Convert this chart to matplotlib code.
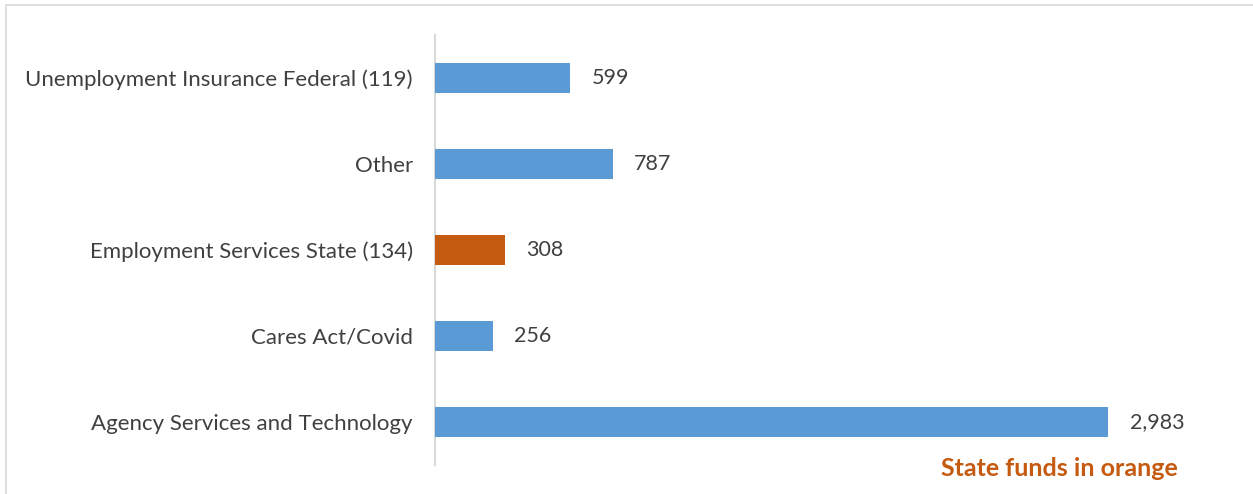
import matplotlib
matplotlib.use("Agg")
import matplotlib.pyplot as plt
from matplotlib.patches import Rectangle

# ── Data ──────────────────────────────────────────────────────────────────────
categories = [
    "Agency Services and Technology",
    "Cares Act/Covid",
    "Employment Services State (134)",
    "Other",
    "Unemployment Insurance Federal (119)",
]
amounts = [2983, 256, 308, 787, 599]
state_funded = [False, False, True, False, False]

BLUE = "#5B9BD5"
ORANGE = "#C55A11"
TEXT = "#404040"
FONT = ["Lato", "DejaVu Sans"]

plt.rcParams["font.family"] = FONT

fig = plt.figure(figsize=(12.53, 4.94), dpi=100)
fig.patch.set_facecolor("white")

# light frame around the chart area
fig.patches.append(Rectangle(
    (6 / 1253, -0.05), 1.2, 1 - 5 / 494 + 0.05,
    transform=fig.transFigure, fill=False,
    edgecolor="#D9D9D9", linewidth=1.2, zorder=0,
))

ax = fig.add_axes([435 / 1253, 29 / 494, 790 / 1253, 430 / 494])

colours = [ORANGE if s else BLUE for s in state_funded]
y = range(len(categories))
bars = ax.barh(y, amounts, height=0.35, color=colours, zorder=3)

for bar, val in zip(bars, amounts):
    ax.text(
        bar.get_width() + 95, bar.get_y() + bar.get_height() / 2,
        f"{val:,}", ha="left", va="center", fontsize=15.5, color=TEXT,
    )

ax.set_xlim(0, 3500)
ax.set_ylim(-0.5, len(categories) - 0.5)
ax.set_yticks(list(y))
ax.set_yticklabels(categories, fontsize=16, color=TEXT)
ax.tick_params(axis="y", length=0, pad=16)
ax.set_xticks([])

for side in ["top", "right", "bottom"]:
    ax.spines[side].set_visible(False)
ax.spines["left"].set_color("#D9D9D9")
ax.spines["left"].set_linewidth(1.5)

fig.text(1178 / 1253, 1 - 468 / 494, "State funds in orange",
         ha="right", va="center", fontsize=18, fontweight="bold", color=ORANGE)

fig.savefig("out.png", dpi=100)
